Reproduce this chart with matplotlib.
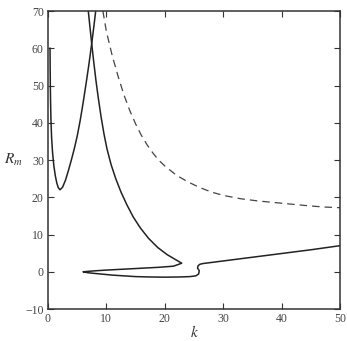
import numpy as np
import matplotlib
matplotlib.use('Agg')
import matplotlib.pyplot as plt

plt.rcParams['font.family'] = ['Liberation Serif', 'DejaVu Serif']
plt.rcParams['mathtext.fontset'] = 'stix'

# U-shaped curve (left)
k_u = [0.35, 0.37, 0.4, 0.45, 0.52, 0.62, 0.78, 1.0, 1.25, 1.5, 1.75, 2.05,
       2.5, 3.0, 3.5, 4.0, 4.5, 5.0, 5.5, 6.0, 6.5, 7.0, 7.48, 7.85, 8.17]
rm_u = [60, 55, 50, 45, 40, 36, 32, 28.5, 25.8, 23.9, 22.6, 22.0,
        22.7, 24.6, 27.2, 30, 33, 36.4, 40.5, 45.2, 50.3, 55.6, 61.2, 65.8, 70]

# main solid curve: descending branch, loop, then rising line
k_s = [6.9, 7.2, 7.48, 7.8, 8.2, 8.6, 9.1, 9.6, 10.1, 10.8, 11.6, 12.5, 13.5, 14.6, 15.8, 17.2, 18.8, 20.4, 21.8, 22.9,
       21.5, 19.0, 16.0, 13.0, 10.0, 8.0, 6.8, 6.0,
       6.8, 8.0, 9.4, 11.0, 13.0, 15.0, 17.5, 20.0, 22.5, 24.3, 25.3, 25.8, 25.9, 25.6, 25.7, 26.0, 26.5,
       30, 35, 40, 45, 50]
rm_s = [70, 65.5, 61.3, 56.8, 51.5, 46.8, 41.5, 36.9, 33, 28.8, 25, 21.4, 18, 14.7, 11.8, 9, 6.5, 4.6, 3.3, 2.3,
        1.5, 1.2, 0.95, 0.7, 0.45, 0.25, 0.1, 0.0,
        -0.25, -0.45, -0.65, -0.9, -1.1, -1.3, -1.4, -1.45, -1.4, -1.3, -1.1, -0.6, 0.3, 1.0, 1.6, 2.0, 2.2,
        2.9, 3.9, 4.9, 5.9, 7.0]

# dashed curve
k_d = [9.4, 10, 11, 12, 13, 14, 15, 16, 17, 18, 19, 20, 22, 24, 26, 28, 30, 33, 36, 40, 44, 47, 50]
rm_d = [70, 64.5, 58, 52.5, 47.5, 43.3, 39.7, 36.6, 34, 31.8, 29.9, 28.4, 25.9, 24.1, 22.6, 21.4, 20.5,
        19.6, 19.0, 18.4, 17.8, 17.4, 17.2]

fig = plt.figure(figsize=(3.47, 3.41), dpi=100)
ax = fig.add_axes([0.1383, 0.0938, 0.8415, 0.8739])

ax.plot(k_u, rm_u, color='#222222', lw=1.1)
ax.plot(k_s, rm_s, color='#222222', lw=1.1)
ax.plot(k_d, rm_d, color='#444444', lw=0.9, dashes=(6, 4))

ax.set_xlim(0, 50)
ax.set_ylim(-10, 70)
ax.set_xticks(range(0, 51, 10))
ax.set_yticks(range(-10, 71, 10))
ax.set_yticklabels(['\u221210'] + [str(v) for v in range(0, 71, 10)])
ax.tick_params(direction='in', length=4, width=0.8, top=True, right=True,
               labelsize=8.5, colors='#333333', labelcolor='#444444', pad=3)
for s in ax.spines.values():
    s.set_linewidth(1.1)
    s.set_color('#333333')

fig.text(0.04, 0.53, '$R_m$', fontsize=11, color='#333333', ha='center', va='center')
fig.text(0.562, 0.025, '$k$', fontsize=11, color='#333333', ha='center', va='center')

fig.savefig('out.png', dpi=100)
